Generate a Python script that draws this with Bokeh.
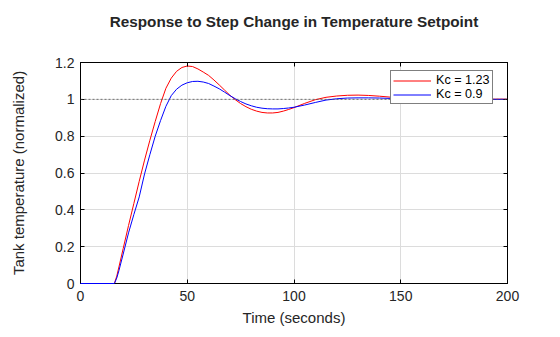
from bokeh.plotting import figure
from bokeh.models import Span, LinearAxis, Legend, LegendItem, FixedTicker, Range1d
from bokeh.embed import file_html
from bokeh.resources import INLINE

# ---- data ----
t_red = [0, 15.7, 16, 17, 18, 20, 22.5, 25, 27.5, 30, 32.5, 35, 37.5, 40, 42.5, 45, 47.5, 50,
         52.5, 55, 57.5, 60, 62.5, 65, 67.5, 70, 72.5, 75, 77.5, 80, 82.5, 85, 87.5, 90, 92.5,
         95, 97.5, 100, 105, 110, 115, 120, 125, 130, 135, 140, 145, 150, 155, 160, 165, 170,
         175, 180, 185, 190, 195, 200]
y_red = [0, 0, 0.005, 0.04, 0.09, 0.19, 0.315, 0.435, 0.555, 0.67, 0.778, 0.88, 0.977, 1.06,
         1.115, 1.152, 1.173, 1.181, 1.178, 1.165, 1.148, 1.13, 1.105, 1.078, 1.05, 1.022,
         0.998, 0.977, 0.96, 0.946, 0.936, 0.929, 0.926, 0.926, 0.929, 0.936, 0.945, 0.955,
         0.978, 0.998, 1.011, 1.018, 1.022, 1.023, 1.021, 1.017, 1.012, 1.006, 1.001, 0.998,
         0.996, 0.995, 0.996, 0.997, 0.999, 1.0, 1.001, 1.001]

t_blue = [0, 15.8, 16, 17, 18, 20, 22.5, 25, 27.5, 30, 32.5, 35, 37.5, 40, 42.5, 45, 47.5, 50,
          52.5, 55, 57.5, 60, 62.5, 65, 67.5, 70, 72.5, 75, 77.5, 80, 82.5, 85, 87.5, 90, 92.5,
          95, 97.5, 100, 105, 110, 115, 120, 125, 130, 135, 140, 145, 150, 155, 160, 170, 180,
          190, 200]
y_blue = [0, 0, 0.003, 0.03, 0.07, 0.16, 0.275, 0.375, 0.47, 0.595, 0.70, 0.80, 0.885, 0.962,
          1.02, 1.055, 1.077, 1.09, 1.097, 1.098, 1.094, 1.086, 1.072, 1.057, 1.039, 1.02,
          1.003, 0.988, 0.975, 0.965, 0.957, 0.952, 0.949, 0.948, 0.948, 0.95, 0.953, 0.957,
          0.969, 0.983, 0.996, 1.003, 1.007, 1.008, 1.008, 1.007, 1.005, 1.004, 1.002, 1.001,
          1.0, 0.999, 1.0, 1.0]

x_ticks = [0, 50, 100, 150, 200]
y_ticks = [0, 0.2, 0.4, 0.6, 0.8, 1.0, 1.2]
y_tick_labels = {0: "0", 0.2: "0.2", 0.4: "0.4", 0.6: "0.6", 0.8: "0.8", 1.0: "1", 1.2: "1.2"}
setpoint = 1.0
title_text = "Response to Step Change in Temperature Setpoint"

FONT = "Liberation Sans"

p = figure(width=560, height=337, output_backend="svg", toolbar_location=None,
           x_range=Range1d(0, 200), y_range=Range1d(0, 1.2),
           min_border_left=80, min_border_right=53, min_border_top=62, min_border_bottom=54,
           x_axis_label="Time (seconds)", y_axis_label="Tank temperature (normalized)")

p.title.text = title_text
p.title.align = "center"
p.title.text_font = FONT
p.title.text_font_size = "15.3px"
p.title.text_font_style = "bold"
p.title.text_color = "#262626"
p.title.standoff = 0
try:
    p.title.padding = dict(top=0, right=0, bottom=33, left=0)
except Exception:
    p.title.standoff = 6

p.background_fill_color = "white"
p.border_fill_color = "white"
p.outline_line_color = "black"
p.outline_line_width = 1

for ax in (p.xaxis[0], p.yaxis[0]):
    ax.axis_line_color = "black"
    ax.major_tick_line_color = "black"
    ax.major_tick_in = 4
    ax.major_tick_out = 0
    ax.minor_tick_line_color = None
    ax.major_label_text_font = FONT
    ax.major_label_text_font_size = "14px"
    ax.major_label_text_color = "#262626"
    ax.axis_label_text_font = FONT
    ax.axis_label_text_font_size = "15px"
    ax.axis_label_text_font_style = "normal"
    ax.axis_label_text_color = "#262626"

p.xaxis[0].ticker = FixedTicker(ticks=x_ticks)
p.yaxis[0].ticker = FixedTicker(ticks=y_ticks)
p.yaxis[0].major_label_overrides = y_tick_labels
p.xaxis[0].major_label_standoff = 7
p.xaxis[0].axis_label_standoff = 5
p.yaxis[0].major_label_standoff = 6
p.yaxis[0].axis_label_standoff = 25

# top/right tick marks (no labels)
top = LinearAxis(ticker=FixedTicker(ticks=x_ticks),
                 major_label_overrides={t: "" for t in x_ticks},
                 major_tick_in=4, major_tick_out=0, minor_tick_line_color=None,
                 axis_line_color="black")
right = LinearAxis(ticker=FixedTicker(ticks=y_ticks),
                   major_label_overrides={t: "" for t in y_ticks},
                   major_tick_in=4, major_tick_out=0, minor_tick_line_color=None,
                   axis_line_color="black")
p.add_layout(top, "above")
p.add_layout(right, "right")

p.xgrid.ticker = FixedTicker(ticks=x_ticks)
p.ygrid.ticker = FixedTicker(ticks=y_ticks)
p.grid.grid_line_color = "#dcdcdc"
p.grid.grid_line_width = 1

p.add_layout(Span(location=setpoint, dimension="width", line_color="#555555",
                  line_dash="2 2", line_width=0.8))

r_red = p.line(t_red, y_red, line_color="#ff0000", line_width=1)
r_blue = p.line(t_blue, y_blue, line_color="#0000ff", line_width=1)
# the flat dead-time part of the blue series sits on top of the x axis line
p.line(t_blue[:3], y_blue[:3], line_color="#0000ff", line_width=1, level="overlay")

legend = Legend(items=[LegendItem(label="Kc = 1.23", renderers=[r_red]),
                       LegendItem(label="Kc = 0.9", renderers=[r_blue])],
                location=(310, 179))
legend.label_text_font = FONT
legend.label_text_font_size = "12.6px"
legend.label_text_color = "#000000"
legend.glyph_width = 38
legend.glyph_height = 13
legend.label_height = 13
legend.label_standoff = 5
legend.padding = 2
legend.spacing = 0
legend.margin = 0
legend.border_line_color = "black"
legend.border_line_width = 1
legend.background_fill_color = "white"
legend.background_fill_alpha = 1
p.add_layout(legend, "center")

open("out.html", "w").write(file_html(p, INLINE))
